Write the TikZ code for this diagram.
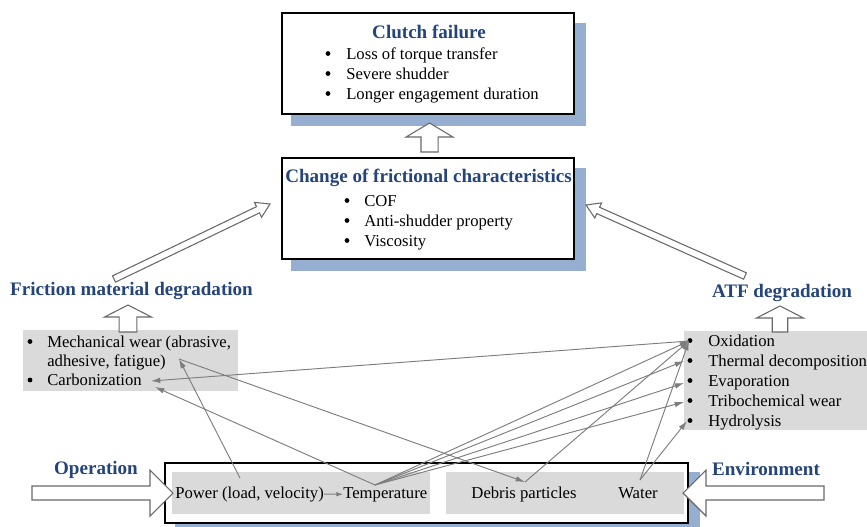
\documentclass[tikz,border=0pt]{standalone}
\usepackage{fontspec}
\setmainfont{Liberation Serif}
\usetikzlibrary{calc,arrows.meta,backgrounds}
\definecolor{titleblue}{RGB}{36,68,122}
\definecolor{shadowblue}{RGB}{150,175,208}
\definecolor{boxgray}{RGB}{218,218,218}
\definecolor{linegray}{RGB}{125,125,125}
\definecolor{arrowgray}{RGB}{105,105,105}
\tikzset{
  bigbox/.style={draw=black, line width=1.9pt, fill=white, inner sep=0pt},
  ttl/.style={font=\fontsize{14.3}{17}\selectfont\bfseries, text=titleblue, inner sep=0pt, anchor=base},
  txt/.style={font=\fontsize{12.5}{15}\selectfont, inner sep=0pt, anchor=base west},
  ctxt/.style={font=\fontsize{12.5}{15}\selectfont, inner sep=0pt, anchor=base},
  bul/.style={circle, fill=black, inner sep=0pt, minimum size=3.6pt},
  conn/.style={draw=linegray, line width=0.7pt, -{Latex[length=7pt,width=4.2pt]}},
  hollow/.style={draw=arrowgray, line width=0.8pt, fill=white, line join=miter},
}
% tail, tip, shaft half width, head half width, head length
\newcommand{\hollowarrow}[5]{%
  \coordinate (ha-b) at ($(#2)!#5!(#1)$);
  \draw[hollow] ($(#1)!#3!90:(#2)$) -- ($(ha-b)!#3!90:(#2)$) -- ($(ha-b)!#4!90:(#2)$) -- (#2)
     -- ($(ha-b)!#4!-90:(#2)$) -- ($(ha-b)!#3!-90:(#2)$) -- ($(#1)!#3!-90:(#2)$) -- cycle;
}
\begin{document}
\begin{tikzpicture}[x=0.75pt,y=-0.75pt]
\useasboundingbox (0,0) rectangle (867,526);

% main boxes
\node[bigbox, minimum width=219pt, minimum height=75.75pt] (cf) at (428,63.5) {};
\node[bigbox, minimum width=219pt, minimum height=75.75pt] (ch) at (428,208.5) {};
\node[bigbox, minimum width=392.25pt, minimum height=45pt] (bb) at (426.5,493) {};

\begin{scope}[on background layer]
  \fill[white] (0,0) rectangle (867,526);
  \fill[shadowblue] ($(cf.north west)+(10.5,11)$) rectangle ($(cf.south east)+(10.5,11)$);
  \fill[shadowblue] ($(ch.north west)+(10.5,11)$) rectangle ($(ch.south east)+(10.5,11)$);
  \fill[shadowblue] ($(bb.north west)+(11,10)$) rectangle ($(bb.south east)+(11,10)$);
\end{scope}

% gray boxes
\fill[boxgray] (23,330) rectangle (238,391);
\fill[boxgray] (684,331) rectangle (867,430);
\fill[boxgray] (172,472) rectangle (430,514);
\fill[boxgray] (446,472) rectangle (684,514);

% clutch failure
\node[ttl] (cft) at (429,38) {Clutch failure};
\node[bul] (cb1) at (328,53.5) {};
\node[txt] (c1) at (346,59) {Loss of torque transfer};
\node[bul] (cb2) at (328,73.5) {};
\node[txt] (c2) at (346,79) {Severe shudder};
\node[bul] (cb3) at (328,93.5) {};
\node[txt] (c3) at (346,99) {Longer engagement duration};

% change of frictional characteristics
\node[ttl] (cht) at (428.5,182) {Change of frictional characteristics};
\node[bul] (hb1) at (347,200.5) {};
\node[txt] (h1) at (364,206) {COF};
\node[bul] (hb2) at (347,220.5) {};
\node[txt] (h2) at (364,226) {Anti-shudder property};
\node[bul] (hb3) at (347,240.5) {};
\node[txt] (h3) at (364,246) {Viscosity};

% labels
\node[ttl] (fmd) at (131.5,295) {Friction material degradation};
\node[ttl] (atf) at (782,297) {ATF degradation};
\node[ttl] (op) at (96,474) {Operation};
\node[ttl] (env) at (766,475) {Environment};

% friction material items
\node[bul] (lb1) at (30,341.5) {};
\node[txt] (l1) at (47,347) {Mechanical wear (abrasive,};
\node[txt] (l1b) at (47,366.5) {adhesive, fatigue)};
\node[bul] (lb2) at (30,380) {};
\node[txt] (l2) at (47,385.5) {Carbonization};

% ATF items
\node[bul] (rb1) at (690,340.5) {};
\node[txt] (r1) at (708,346) {Oxidation};
\node[bul] (rb2) at (690,360.5) {};
\node[txt] (r2) at (708,366) {Thermal decomposition};
\node[bul] (rb3) at (690,380.5) {};
\node[txt] (r3) at (708,386) {Evaporation};
\node[bul] (rb4) at (690,400.5) {};
\node[txt] (r4) at (708,406) {Tribochemical wear};
\node[bul] (rb5) at (690,420.5) {};
\node[txt] (r5) at (708,426) {Hydrolysis};

% bottom items
\node[txt] (pow) at (175,498) {Power (load, velocity)};
\node[txt] (tem) at (343,498) {Temperature};
\node[ctxt] (deb) at (524,498) {Debris particles};
\node[ctxt] (wat) at (638,498) {Water};

% connector end points
\coordinate (pwr-o) at (240,478);
\coordinate (tmp-o) at (375,485);
\coordinate (deb-p) at (525,482);
\coordinate (wat-o) at (640,480);
\coordinate (mw-p) at (179,359);
\coordinate (car-p) at (151,381);
\coordinate (car-q) at (155,387);
\coordinate (ox-p) at (689,341);
\coordinate (td-p) at (684,361);
\coordinate (ev-p) at (684,383);
\coordinate (tw-p) at (684,402);
\coordinate (hy-p) at (687,421);

\draw[conn, -{Latex[length=5pt,width=3.5pt]}] (pow.east) -- (tem.west);
\draw[conn] (pwr-o) -- (mw-p);
\draw[conn] (mw-p) -- (deb-p);
\draw[conn] (tmp-o) -- (car-q);
\draw[conn] (ox-p) -- (car-p);
\draw[conn] (tmp-o) -- (ox-p);
\draw[conn] (tmp-o) -- (td-p);
\draw[conn] (tmp-o) -- (ev-p);
\draw[conn] (tmp-o) -- (tw-p);
\draw[conn] (deb-p) -- (ox-p);
\draw[conn] (wat-o) -- (ox-p);
\draw[conn] (wat-o) -- (hy-p);

% hollow block arrows
\coordinate (ua-t) at (429.5,152); \coordinate (ua-h) at (429.5,123);
\hollowarrow{ua-t}{ua-h}{6.4pt}{17.6pt}{10.5pt}
\coordinate (la-t) at (128,332); \coordinate (la-h) at (128,305);
\hollowarrow{la-t}{la-h}{6.6pt}{17.6pt}{9pt}
\coordinate (ra-t) at (780,332); \coordinate (ra-h) at (780,306);
\hollowarrow{ra-t}{ra-h}{5.8pt}{17.6pt}{9pt}
\coordinate (ld-t) at (114,279); \coordinate (ld-h) at (270,204);
\hollowarrow{ld-t}{ld-h}{2.6pt}{6.2pt}{10pt}
\coordinate (rd-t) at (745,276); \coordinate (rd-h) at (586,205);
\hollowarrow{rd-t}{rd-h}{2.6pt}{6.2pt}{10pt}
\coordinate (oa-t) at (32,493); \coordinate (oa-h) at (173,493);
\hollowarrow{oa-t}{oa-h}{5.25pt}{17.25pt}{17.25pt}
\coordinate (ea-t) at (824,493); \coordinate (ea-h) at (683,493);
\hollowarrow{ea-t}{ea-h}{5.25pt}{17.25pt}{17.25pt}
\end{tikzpicture}
\end{document}
